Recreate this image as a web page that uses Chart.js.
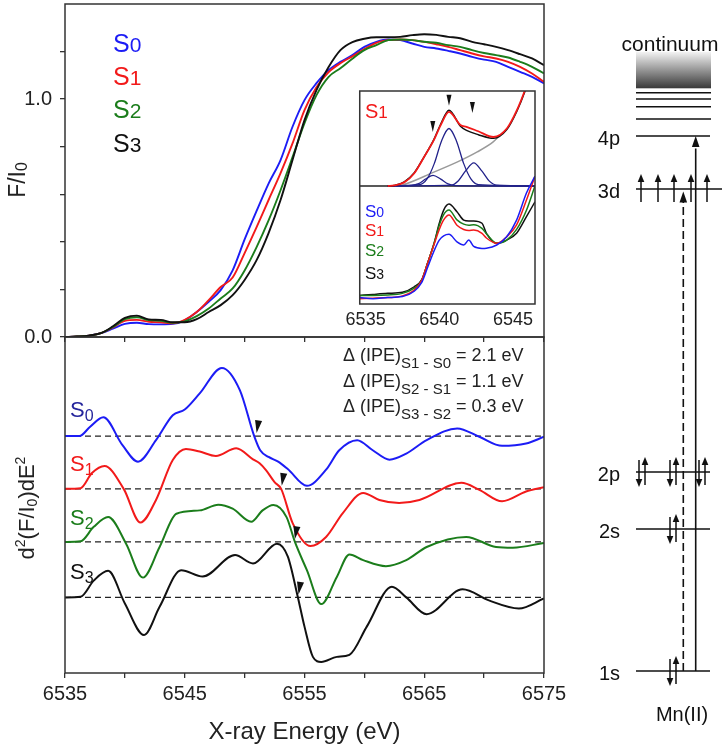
<!DOCTYPE html>
<html>
<head>
<meta charset="utf-8">
<script src="https://cdn.jsdelivr.net/npm/chart.js@4.4.1/dist/chart.umd.min.js"></script>
<style>
body { margin: 0; background: #fff; }
#wrap { position: relative; width: 725px; height: 750px; overflow: hidden; }
canvas { position: absolute; }
</style>
</head>
<body>
<div id="wrap">
<canvas id="bottom" width="600" height="418" style="left:0px;top:332px"></canvas>
<canvas id="top" width="600" height="345" style="left:0px;top:0px"></canvas>
<canvas id="inset" width="200" height="250" style="left:340px;top:86px"></canvas>
<canvas id="diagram" width="165" height="750" style="left:560px;top:0px"></canvas>
</div>
<script>
const FONT = '"Liberation Sans", Arial, Helvetica, sans-serif';
Chart.defaults.font.family = FONT;
Chart.defaults.color = '#222';

// ---- data ----
const states = ['0', '1', '2', '3'];
const stateColors = ['#1c1cf5', '#f21a1a', '#1b7d1b', '#111111'];
const stateLabelColors = ['#25259c', '#f21a1a', '#1b7d1b', '#111111'];

// top panel: F/I0 vs energy
const energy = [6535, 6536, 6537, 6538, 6539, 6540, 6541, 6542, 6543, 6544, 6545, 6546, 6547, 6548,
  6549, 6550, 6551, 6552, 6553, 6554, 6555, 6556, 6557, 6558, 6559, 6560, 6561, 6562, 6563, 6564,
  6565, 6566, 6567, 6568, 6569, 6570, 6571, 6572, 6573, 6574, 6575];
const fluorS0 = [0, 0.002, 0.006, 0.016, 0.035, 0.055, 0.06, 0.054, 0.053, 0.055, 0.07, 0.105, 0.148, 0.197,
  0.28, 0.41, 0.53, 0.645, 0.744, 0.884, 0.996, 1.067, 1.122, 1.157, 1.185, 1.22, 1.241, 1.251, 1.248, 1.234,
  1.22, 1.213, 1.203, 1.192, 1.178, 1.166, 1.157, 1.136, 1.115, 1.094, 1.066];
const fluorS1 = [0, 0.002, 0.006, 0.016, 0.04, 0.068, 0.072, 0.064, 0.062, 0.058, 0.072, 0.105, 0.155, 0.21,
  0.25, 0.353, 0.462, 0.576, 0.689, 0.814, 0.954, 1.05, 1.113, 1.151, 1.18, 1.21, 1.237, 1.248, 1.251, 1.248,
  1.241, 1.231, 1.22, 1.206, 1.192, 1.18, 1.171, 1.157, 1.136, 1.108, 1.073];
const fluorS2 = [0, 0.002, 0.006, 0.016, 0.042, 0.075, 0.083, 0.071, 0.068, 0.06, 0.066, 0.088, 0.12, 0.162,
  0.204, 0.28, 0.378, 0.49, 0.617, 0.756, 0.899, 1.017, 1.093, 1.13, 1.17, 1.206, 1.227, 1.248, 1.251, 1.248,
  1.241, 1.237, 1.227, 1.22, 1.206, 1.194, 1.185, 1.175, 1.157, 1.136, 1.108];
const fluorS3 = [0, 0.002, 0.006, 0.016, 0.045, 0.08, 0.09, 0.074, 0.072, 0.062, 0.062, 0.075, 0.105, 0.134,
  0.176, 0.24, 0.323, 0.437, 0.576, 0.744, 0.912, 1.038, 1.134, 1.206, 1.24, 1.254, 1.26, 1.26, 1.262, 1.269,
  1.273, 1.27, 1.262, 1.256, 1.241, 1.231, 1.22, 1.206, 1.189, 1.171, 1.143];
const fluor = [fluorS0, fluorS1, fluorS2, fluorS3];

// bottom panel: second derivatives (relative to each dashed baseline)
const d2S0E = [6535, 6536.2, 6537.1, 6538.2, 6539.8, 6541.1, 6542.6, 6544.0, 6545.0, 6546.25, 6548.1, 6549.6,
  6550.8, 6551.3, 6552.0, 6552.8, 6553.6, 6555.2, 6556.8, 6557.9, 6559.4, 6560.7, 6562.1, 6563.5, 6565.2,
  6567.75, 6569.6, 6571.5, 6573.5, 6575];
const d2S0 = [0, 0.0, 0.28, 0.56, -0.27, -0.76, -0.12, 0.62, 0.79, 1.27, 2.03, 1.37,
  0, -0.42, -0.62, -0.76, -0.98, -1.48, -1.0, -0.42, -0.12, -0.42, -0.7, -0.52, -0.12,
  0.23, -0.02, -0.29, -0.22, -0.02];
const d2S1E = [6535, 6536.3, 6537.25, 6538.3, 6539.9, 6541.3, 6542.6, 6544.0, 6545.1, 6546.25, 6547.6, 6549.3,
  6550.7, 6551.25, 6551.8, 6552.5, 6553.05, 6554.0, 6555.5, 6556.8, 6558.2, 6559.9, 6561.25, 6562.9, 6564.6,
  6568.1, 6569.6, 6571.5, 6573.5, 6575];
const d2S1 = [0, 0.02, 0.47, 0.68, 0, -1.0, -0.33, 0.86, 1.19, 1.11, 0.98, 1.21,
  0.88, 0.76, 0.55, 0.2, 0, -1.01, -1.7, -1.43, -0.72, -0.12, -0.33, -0.42, -0.33,
  0.18, -0.03, -0.37, -0.08, 0.05];
const d2S2E = [6535, 6536.3, 6537.4, 6538.6, 6540.1, 6541.5, 6542.9, 6544.3, 6546.25, 6547.8, 6549.0, 6550.55,
  6551.5, 6552.4, 6553.5, 6554.2, 6555.2, 6556.4, 6557.7, 6558.75, 6559.9, 6561.8, 6563.5, 6565.2, 6568.5,
  6571.0, 6572.4, 6575];
const d2S2 = [0, 0.02, 0.45, 0.74, -0.05, -1.06, -0.15, 0.84, 0.94, 1.11, 0.99, 0.6,
  0.94, 1.1, 0.74, 0, -0.84, -1.85, -1.04, -0.37, -0.54, -0.72, -0.54, -0.15, 0.15,
  -0.15, -0.17, -0.03];
const d2S3E = [6535, 6536.3, 6537.4, 6538.6, 6540.0, 6541.6, 6542.9, 6544.7, 6546.5, 6549.2, 6550.7, 6552.7,
  6553.6, 6554.45, 6555.0, 6555.7, 6556.4, 6557.7, 6558.75, 6560.2, 6562.3, 6563.5, 6565.2, 6568.2, 6570.4,
  6572.9, 6575];
const d2S3 = [0, 0.02, 0.5, 0.79, -0.18, -1.12, -0.28, 0.81, 0.62, 1.26, 1.01, 1.6,
  1.22, 0, -0.87, -1.77, -1.92, -1.77, -1.71, -0.87, 0.32, 0, -0.5, 0.24, -0.09,
  -0.33, -0.03];
const d2E = [d2S0E, d2S1E, d2S2E, d2S3E];
const d2V = [d2S0, d2S1, d2S2, d2S3];
const d2Offsets = [7.05, 5.48, 3.9, 2.25];
const ipeEnergy = [6551.0, 6553.1, 6554.2, 6554.5];
const ipeShift = ['2.1', '1.1', '0.3'];

// inset, upper part: S1 pre-edge fit
const fitE = [6536.5, 6536.95, 6537.62, 6538.29, 6538.96, 6539.63, 6540.1, 6540.66, 6541.44, 6541.85,
  6542.65, 6543.68, 6544.6, 6545.27, 6545.8, 6546.2];
const fitData = [0.554, 0.557, 0.571, 0.613, 0.689, 0.769, 0.84, 0.902, 0.84, 0.832,
  0.811, 0.784, 0.825, 0.91, 1.0, 1.08];
const fitModel = [0.554, 0.556, 0.573, 0.615, 0.69, 0.772, 0.845, 0.91, 0.835, 0.815,
  0.795, 0.778, 0.82, 0.905, 0.995, 1.08];
const bgE = [6536.95, 6537.4, 6539.63, 6541.24, 6542.58, 6543.66, 6544.13];
const bgV = [0.554, 0.557, 0.619, 0.667, 0.714, 0.761, 0.792];
const insetBase = 0.554;
const peak1E = [6536.5, 6538.1, 6538.6, 6539.1, 6539.58, 6540.1, 6540.6, 6541.1, 6546.5];
const peak1V = [0, 0.003, 0.011, 0.034, 0.05, 0.032, 0.01, 0.002, 0];
const peak2E = [6536.5, 6538.66, 6539.16, 6539.66, 6540.16, 6540.66, 6541.16, 6541.66, 6542.16, 6542.66, 6546.5];
const peak2V = [0, 0.006, 0.032, 0.105, 0.213, 0.27, 0.213, 0.105, 0.032, 0.006, 0];
const peak3E = [6536.5, 6540.8, 6541.3, 6541.8, 6542.34, 6542.9, 6543.4, 6543.9, 6546.5];
const peak3V = [0, 0.004, 0.025, 0.072, 0.109, 0.07, 0.023, 0.004, 0];
const insetMarkE = [6539.56, 6540.66, 6542.25];
const insetMarkV = [0.807, 0.931, 0.897];

// inset, lower part: pre-edge of S0..S3
const preE = [6534.6, 6535.5, 6536.5, 6537.5, 6538.3, 6538.8, 6539.2, 6539.65, 6540.0, 6540.3, 6540.66,
  6541.2, 6541.66, 6542.0, 6542.34, 6542.9, 6543.2, 6543.9, 6544.58, 6545.25, 6545.92, 6546.5];
const preS0 = [0.03, 0.025, 0.03, 0.035, 0.06, 0.1, 0.17, 0.25, 0.3, 0.32, 0.327,
  0.292, 0.277, 0.3, 0.27, 0.261, 0.262, 0.277, 0.316, 0.394, 0.521, 0.6];
const preS1 = [0.025, 0.027, 0.03, 0.038, 0.065, 0.11, 0.19, 0.28, 0.35, 0.395, 0.418,
  0.37, 0.35, 0.345, 0.347, 0.332, 0.31, 0.285, 0.316, 0.371, 0.488, 0.6];
const preS2 = [0.04, 0.04, 0.042, 0.05, 0.075, 0.11, 0.19, 0.285, 0.37, 0.42, 0.441,
  0.395, 0.375, 0.37, 0.372, 0.355, 0.33, 0.285, 0.3, 0.35, 0.44, 0.555];
const preS3 = [0.04, 0.045, 0.05, 0.055, 0.081, 0.113, 0.191, 0.285, 0.379, 0.441, 0.469,
  0.433, 0.394, 0.39, 0.39, 0.379, 0.332, 0.285, 0.3, 0.332, 0.41, 0.48];
const pre = [preS0, preS1, preS2, preS3];
const insetTicks = [6535, 6540, 6545];

// energy level diagram (schematic units)
const levelNames = ['1s', '2s', '2p', '3d', '4p'];
const levelE = [1.58, 4.42, 5.56, 11.22, 12.28];
const levelX0 = [7.6, 7.6, 7.6, 7.6, 7.6];
const levelX1 = [15.0, 15.0, 15.0, 16.2, 15.0];
const continuumE = [12.62, 12.866, 13.02, 13.146];
const continuumBand = [13.234, 13.966];
const spinUpX = [[11.6], [11.6], [8.5, 11.6, 14.5], [8.1, 9.8, 11.4, 13.1, 14.7], []];
const spinDownX = [[11.0], [11.0], [7.9, 11.0, 13.9], [], []];
const transX = [12.33, 13.57];
const transTo = [3, 4];
const transDashed = [true, false];

// ---- helpers ----
function richText(ctx, x, y, parts, align) {
  let w = 0;
  for (const p of parts) { ctx.font = p[1] + 'px ' + FONT; w += ctx.measureText(p[0]).width; }
  let cx = align === 'center' ? x - w / 2 : (align === 'right' ? x - w : x);
  ctx.textAlign = 'left';
  for (const p of parts) {
    ctx.font = p[1] + 'px ' + FONT;
    ctx.fillText(p[0], cx, y + (p[2] || 0));
    cx += ctx.measureText(p[0]).width;
  }
}

const frame = {
  id: 'frame',
  afterDraw(chart) {
    const a = chart.chartArea, ctx = chart.ctx;
    ctx.save();
    ctx.strokeStyle = '#333';
    ctx.lineWidth = 1.5;
    ctx.strokeRect(a.left, a.top, a.right - a.left, a.bottom - a.top);
    ctx.restore();
  }
};

function line(data, color, width, dash) {
  return {
    data: data, borderColor: color, borderWidth: width || 2, borderDash: dash || [],
    pointRadius: 0, fill: false, cubicInterpolationMode: 'monotone'
  };
}
function pts(xs, ys, off) {
  return xs.map((x, i) => ({ x: x, y: ys[i] + (off || 0) }));
}

// ---- top panel ----
new Chart(document.getElementById('top'), {
  type: 'line',
  data: { datasets: fluor.map((s, i) => line(pts(energy, s), stateColors[i], 1.9)).reverse() },
  options: {
    responsive: false, animation: false,
    layout: { padding: { left: 0, right: 56, top: 4, bottom: 0 } },
    plugins: { legend: { display: false }, tooltip: { enabled: false } },
    scales: {
      x: {
        type: 'linear', min: 6535, max: 6575,
        ticks: { display: false, stepSize: 5 },
        grid: { drawOnChartArea: false, tickLength: 5, color: '#333', lineWidth: 1.3 },
        border: { display: false },
        afterFit(s) { s.height = 8; s.paddingLeft = 0; s.paddingRight = 0; }
      },
      y: {
        min: 0, max: 1.4,
        ticks: {
          stepSize: 0.2, padding: 8, color: '#222', font: { size: 20 },
          callback: v => Math.abs(v) < 1e-6 ? '0.0' : (Math.abs(v - 1) < 1e-6 ? '1.0' : '')
        },
        grid: {
          drawOnChartArea: false, tickLength: 5, lineWidth: 1.3,
          color: c => (c.tick && c.tick.value > 1.39 ? 'rgba(0,0,0,0)' : '#333')
        },
        border: { display: false },
        afterFit(s) { s.width = 65; s.paddingTop = 0; s.paddingBottom = 0; }
      }
    }
  },
  plugins: [frame, {
    id: 'topText',
    afterDraw(chart) {
      const ctx = chart.ctx;
      ctx.save();
      ctx.textBaseline = 'alphabetic';
      const legendY = [52, 85, 118, 152];
      states.forEach((s, i) => {
        ctx.fillStyle = stateColors[i];
        richText(ctx, 113, legendY[i], [['S', 25], [s, 21]]);
      });
      ctx.fillStyle = '#222';
      ctx.translate(25, 180);
      ctx.rotate(-Math.PI / 2);
      richText(ctx, 0, 0, [['F/I', 23], ['0', 16, 2]], 'center');
      ctx.restore();
    }
  }]
});

// ---- bottom panel ----
const d2Sets = d2V.map((v, i) => line(pts(d2E[i], v, d2Offsets[i]), stateColors[i], 2));
const baseSets = d2Offsets.map(o => Object.assign(line([{ x: 6535, y: o }, { x: 6575, y: o }], '#222', 1.2, [6, 4]), { cubicInterpolationMode: 'default', tension: 0 }));

new Chart(document.getElementById('bottom'), {
  type: 'line',
  data: { datasets: d2Sets.concat(baseSets) },
  options: {
    responsive: false, animation: false,
    layout: { padding: { left: 65, right: 56, top: 5, bottom: 0 } },
    plugins: { legend: { display: false }, tooltip: { enabled: false } },
    scales: {
      x: {
        type: 'linear', min: 6535, max: 6575,
        ticks: {
          stepSize: 5, padding: 4, color: '#222', font: { size: 20 }, autoSkip: false, maxRotation: 0,
          callback: v => (v % 10 === 5 ? String(v) : '')
        },
        grid: { drawOnChartArea: false, tickLength: 5, color: '#333', lineWidth: 1.3 },
        border: { display: false },
        title: { display: true, text: 'X-ray Energy (eV)', color: '#222', font: { size: 24 }, padding: { top: 0, bottom: 3 } },
        afterFit(s) { s.height = 77; }
      },
      y: { display: false, min: 0, max: 10 }
    }
  },
  plugins: [frame, {
    id: 'bottomText',
    afterDatasetsDraw(chart) {
      const ctx = chart.ctx, xs = chart.scales.x, ys = chart.scales.y;
      ctx.save();
      ctx.fillStyle = '#111';
      ipeEnergy.forEach((e, i) => {
        const tx = xs.getPixelForValue(e), ty = ys.getPixelForValue(d2Offsets[i]) - 3;
        ctx.beginPath();
        ctx.moveTo(tx, ty);
        ctx.lineTo(tx - 1.5, ty - 13);
        ctx.lineTo(tx + 5.5, ty - 12);
        ctx.closePath();
        ctx.fill();
      });
      ctx.restore();
    },
    afterDraw(chart) {
      const ctx = chart.ctx;
      ctx.save();
      ctx.textBaseline = 'alphabetic';
      const labelY = [85, 139, 193, 247];
      states.forEach((s, i) => {
        ctx.fillStyle = stateLabelColors[i];
        richText(ctx, 70, labelY[i], [['S', 22], [s, 16, 4]]);
      });
      ctx.fillStyle = '#222';
      const lineY = [29, 55, 80];
      ipeShift.forEach((d, i) => {
        richText(ctx, 343, lineY[i], [['\u0394 (IPE)', 18], ['S' + (i + 1) + ' - S' + i, 15, 7], [' = ' + d + ' eV', 18]]);
      });
      ctx.translate(34, 176);
      ctx.rotate(-Math.PI / 2);
      richText(ctx, 0, 0, [['d', 22], ['2', 14, -9], ['(F/I', 22], ['0', 14, 3], [')dE', 22], ['2', 14, -9]], 'center');
      ctx.restore();
    }
  }]
});

// ---- inset ----
const insetSets = [];
pre.forEach((v, i) => insetSets.push(line(pts(preE, v), stateColors[i], 1.5)));
insetSets.push(line(pts(fitE, fitData), stateColors[1], 1.8));
insetSets.push(line(pts(fitE, fitModel), '#111', 1.5));
insetSets.push(line(pts(peak1E, peak1V, insetBase), '#22228a', 1.3));
insetSets.push(line(pts(peak2E, peak2V, insetBase), '#22228a', 1.3));
insetSets.push(line(pts(peak3E, peak3V, insetBase), '#22228a', 1.3));
insetSets.push(line(pts(bgE, bgV), '#9a9a9a', 1.5));
insetSets.push(Object.assign(line([{ x: 6534.6, y: insetBase }, { x: 6546.5, y: insetBase }], '#222', 1.3), { cubicInterpolationMode: 'default', tension: 0 }));

new Chart(document.getElementById('inset'), {
  type: 'line',
  data: { datasets: insetSets },
  options: {
    responsive: false, animation: false,
    layout: { padding: { left: 18, right: 5, top: 5, bottom: 0 } },
    plugins: { legend: { display: false }, tooltip: { enabled: false } },
    scales: {
      x: {
        type: 'linear', min: 6534.6, max: 6546.5,
        afterBuildTicks(s) { s.ticks = insetTicks.map(v => ({ value: v })); },
        ticks: { padding: 5, color: '#222', font: { size: 18 }, autoSkip: false, maxRotation: 0, callback: v => String(v) },
        grid: { display: false, drawTicks: false },
        border: { display: false },
        afterFit(s) { s.height = 32; }
      },
      y: { display: false, min: 0, max: 1 }
    }
  },
  plugins: [{
    id: 'insetBg',
    beforeDraw(chart) {
      const a = chart.chartArea, ctx = chart.ctx;
      ctx.save();
      ctx.fillStyle = '#fff';
      ctx.fillRect(a.left, a.top, a.right - a.left, a.bottom - a.top);
      ctx.restore();
    },
    afterDraw(chart) {
      const ctx = chart.ctx, xs = chart.scales.x, ys = chart.scales.y;
      ctx.save();
      ctx.fillStyle = '#111';
      insetMarkE.forEach((e, i) => {
        const tx = xs.getPixelForValue(e), ty = ys.getPixelForValue(insetMarkV[i]);
        ctx.beginPath();
        ctx.moveTo(tx, ty);
        ctx.lineTo(tx - 2.5, ty - 11);
        ctx.lineTo(tx + 2.5, ty - 11);
        ctx.closePath();
        ctx.fill();
      });
      ctx.textBaseline = 'alphabetic';
      ctx.fillStyle = stateColors[1];
      richText(ctx, 25, 32, [['S', 20], ['1', 17]]);
      const labelY = [131, 150, 170, 193];
      states.forEach((s, i) => {
        ctx.fillStyle = stateColors[i];
        richText(ctx, 25, labelY[i], [['S', 17], [s, 14]]);
      });
      ctx.restore();
    }
  }, frame]
});

// ---- energy level diagram ----
const diagSets = [];
levelE.forEach((e, i) => diagSets.push(line([{ x: levelX0[i], y: e }, { x: levelX1[i], y: e }], '#111', 1.6)));
continuumE.forEach(e => diagSets.push(line([{ x: 7.6, y: e }, { x: 15.1, y: e }], '#111', 1.6)));
transX.forEach((x, i) => diagSets.push(line([{ x: x, y: levelE[0] }, { x: x, y: levelE[transTo[i]] - 0.25 }], '#111', 1.6, transDashed[i] ? [8, 4] : [])));
diagSets.forEach(d => { d.cubicInterpolationMode = 'default'; d.tension = 0; });

function head(ctx, x, tipY, dir, len, half) {
  ctx.beginPath();
  ctx.moveTo(x, tipY);
  ctx.lineTo(x - half, tipY - dir * len);
  ctx.lineTo(x + half, tipY - dir * len);
  ctx.closePath();
  ctx.fill();
}

new Chart(document.getElementById('diagram'), {
  type: 'line',
  data: { datasets: diagSets },
  options: {
    responsive: false, animation: false,
    layout: { padding: 0 },
    plugins: { legend: { display: false }, tooltip: { enabled: false } },
    scales: {
      x: { type: 'linear', display: false, min: 0, max: 16.5 },
      y: { display: false, min: 0, max: 15 }
    }
  },
  plugins: [{
    id: 'diagramArt',
    beforeDatasetsDraw(chart) {
      const ctx = chart.ctx, xs = chart.scales.x, ys = chart.scales.y;
      const x0 = xs.getPixelForValue(7.6), x1 = xs.getPixelForValue(15.1);
      const yT = ys.getPixelForValue(continuumBand[1]), yB = ys.getPixelForValue(continuumBand[0]);
      const g = ctx.createLinearGradient(0, yT, 0, yB);
      g.addColorStop(0, '#f4f4f4');
      g.addColorStop(1, '#383838');
      ctx.save();
      ctx.fillStyle = g;
      ctx.fillRect(x0, yT, x1 - x0, yB - yT);
      ctx.restore();
    },
    afterDatasetsDraw(chart) {
      const ctx = chart.ctx, xs = chart.scales.x, ys = chart.scales.y;
      ctx.save();
      ctx.strokeStyle = '#111';
      ctx.fillStyle = '#111';
      ctx.lineWidth = 1.5;
      levelE.forEach((e, i) => {
        const py = ys.getPixelForValue(e);
        spinUpX[i].forEach(x => {
          const px = xs.getPixelForValue(x);
          ctx.beginPath(); ctx.moveTo(px, py + 13); ctx.lineTo(px, py - 9); ctx.stroke();
          head(ctx, px, py - 15, -1, 8, 3.3);
        });
        spinDownX[i].forEach(x => {
          const px = xs.getPixelForValue(x);
          ctx.beginPath(); ctx.moveTo(px, py - 12); ctx.lineTo(px, py + 9); ctx.stroke();
          head(ctx, px, py + 15, 1, 8, 3.3);
        });
      });
      transX.forEach((x, i) => {
        const px = xs.getPixelForValue(x);
        const tip = ys.getPixelForValue(levelE[transTo[i]]) + (transDashed[i] ? 2.5 : 0);
        head(ctx, px, tip, -1, 11, 3.8);
      });
      ctx.textBaseline = 'middle';
      ctx.textAlign = 'right';
      ctx.font = '20px ' + FONT;
      levelNames.forEach((n, i) => ctx.fillText(n, xs.getPixelForValue(6.0), ys.getPixelForValue(levelE[i]) + 3));
      ctx.textAlign = 'center';
      ctx.textBaseline = 'alphabetic';
      ctx.font = '21px ' + FONT;
      ctx.fillText('continuum', xs.getPixelForValue(11.0), ys.getPixelForValue(continuumBand[1]) - 1);
      ctx.font = '20px ' + FONT;
      ctx.fillText('Mn(II)', xs.getPixelForValue(12.2), ys.getPixelForValue(0.58));
      ctx.restore();
    }
  }]
});
</script>
</body>
</html>
